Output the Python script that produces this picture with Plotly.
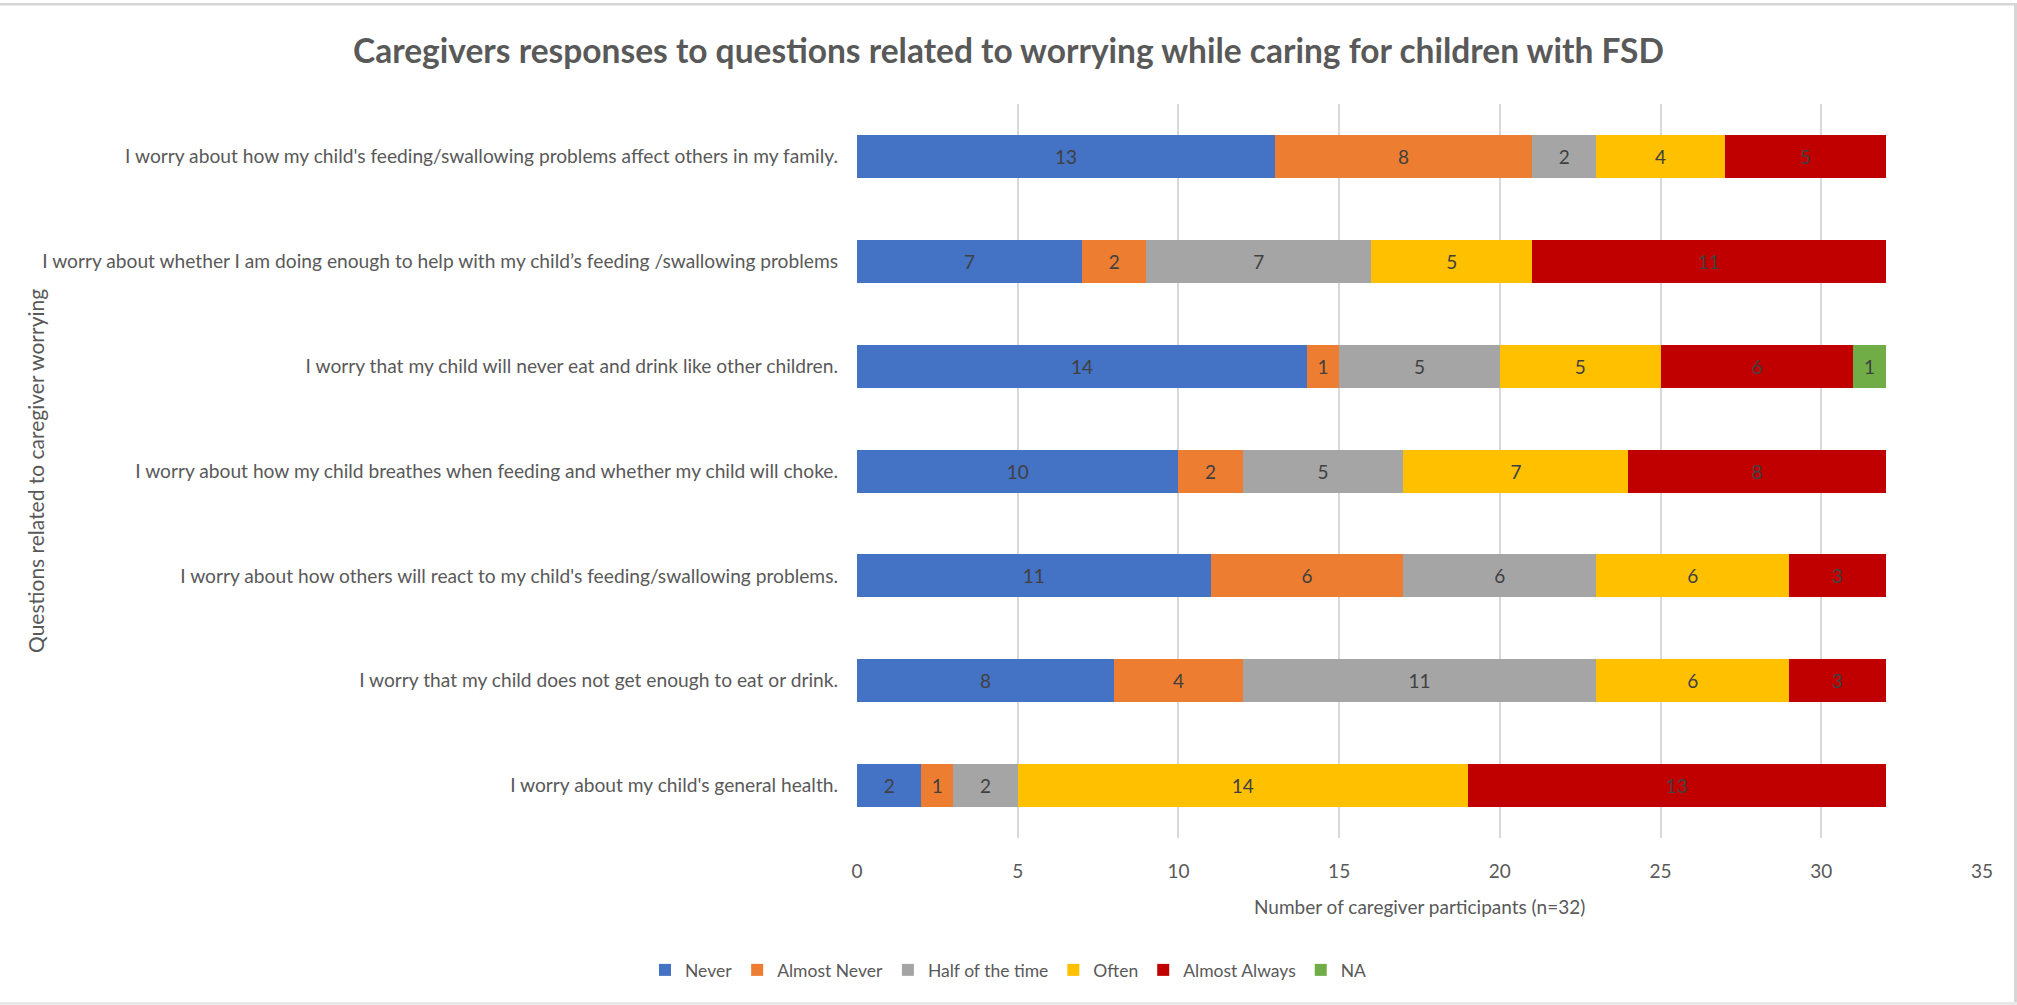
import plotly.graph_objects as go

categories = [
    "I worry about how my child's feeding/swallowing problems affect others in my family.",
    "I worry about whether I am doing enough to help with my child\u2019s feeding /swallowing problems",
    "I worry that my child will never eat and drink like other children.",
    "I worry about how my child breathes when feeding and whether my child will choke.",
    "I worry about how others will react to my child's feeding/swallowing problems.",
    "I worry that my child does not get enough to eat or drink.",
    "I worry about my child's general health.",
]

never = [13, 7, 14, 10, 11, 8, 2]
almost_never = [8, 2, 1, 2, 6, 4, 1]
half_time = [2, 7, 5, 5, 6, 11, 2]
often = [4, 5, 5, 7, 6, 6, 14]
almost_always = [5, 11, 6, 8, 3, 3, 13]
na = [0, 0, 1, 0, 0, 0, 0]

series_names = ["Never", "Almost Never", "Half of the time", "Often", "Almost Always", "NA"]
series_values = [never, almost_never, half_time, often, almost_always, na]
series_colors = ["#4472C4", "#ED7D31", "#A5A5A5", "#FFC000", "#C00000", "#70AD47"]

x_ticks = [0, 5, 10, 15, 20, 25, 30, 35]

FONT = "Lato, sans-serif"
GREY = "#595959"

W, H = 2017, 1005
ML, MR, MT, MB = 857, 35, 104, 167
PW, PH = W - ML - MR, H - MT - MB


def px_x(px):
    return (px - ML) / PW


def px_y(py):
    return (H - MB - py) / PH


fig = go.Figure()
for name, vals, col in zip(series_names, series_values, series_colors):
    fig.add_trace(go.Bar(
        y=categories,
        x=vals,
        name=name,
        orientation="h",
        marker=dict(color=col, line=dict(width=0)),
        text=[str(v) if v else "" for v in vals],
        textposition="inside",
        insidetextanchor="middle",
        textangle=0,
        constraintext="none",
        textfont=dict(family=FONT, size=19, color="#404040"),
        hoverinfo="x+y+name",
    ))

fig.update_layout(
    width=W,
    height=H,
    barmode="stack",
    bargap=0.59,
    paper_bgcolor="white",
    plot_bgcolor="white",
    margin=dict(l=ML, r=MR, t=MT, b=MB, autoexpand=False),
    title=dict(
        text="<b>Caregivers responses to questions related to worrying while caring for children with FSD</b>",
        x=0.5, xref="container", xanchor="center",
        y=1 - 51 / H, yref="container", yanchor="middle",
        font=dict(family=FONT, size=33.5, color=GREY),
    ),
    xaxis=dict(
        range=[0, 35],
        tickvals=x_ticks,
        ticktext=[str(t) for t in x_ticks],
        showgrid=True,
        gridcolor="#D9D9D9",
        gridwidth=1.5,
        zeroline=False,
        showline=False,
        ticks="",
        ticklabelstandoff=20,
        tickfont=dict(family=FONT, size=19, color=GREY),
    ),
    yaxis=dict(
        categoryorder="array",
        categoryarray=categories[::-1],
        showgrid=False,
        zeroline=False,
        showline=False,
        ticks="",
        ticklabelstandoff=18,
        tickfont=dict(family=FONT, size=19.2, color=GREY),
    ),
    legend=dict(
        orientation="h",
        x=0.5, xref="container", xanchor="center",
        y=1 - 970 / H, yref="container", yanchor="middle",
        font=dict(family=FONT, size=17.5, color=GREY),
        traceorder="normal",
        itemwidth=30,
    ),
    annotations=[
        dict(
            text="Questions related to caregiver worrying",
            xref="paper", yref="paper",
            x=px_x(35), y=0.5,
            xanchor="center", yanchor="middle",
            textangle=-90, showarrow=False,
            font=dict(family=FONT, size=21, color=GREY),
        ),
        dict(
            text="Number of caregiver participants (n=32)",
            xref="paper", yref="paper",
            x=0.5, y=px_y(906),
            xanchor="center", yanchor="middle",
            showarrow=False,
            font=dict(family=FONT, size=19, color=GREY),
        ),
    ],
    shapes=[
        dict(type="rect", xref="paper", yref="paper", layer="above",
             x0=px_x(0), x1=px_x(W), y0=px_y(5.5), y1=px_y(3),
             fillcolor="#D6D6D6", line=dict(width=0)),
        dict(type="rect", xref="paper", yref="paper", layer="above",
             x0=px_x(2014), x1=px_x(W), y0=px_y(H), y1=px_y(3),
             fillcolor="#D6D6D6", line=dict(width=0)),
        dict(type="rect", xref="paper", yref="paper", layer="above",
             x0=px_x(0), x1=px_x(W), y0=px_y(H), y1=px_y(1002),
             fillcolor="#E8E8E8", line=dict(width=0)),
    ],
)

fig.write_html(
    "out.html",
    config={"displayModeBar": False},
    post_script="document.body.style.margin='0';",
)
